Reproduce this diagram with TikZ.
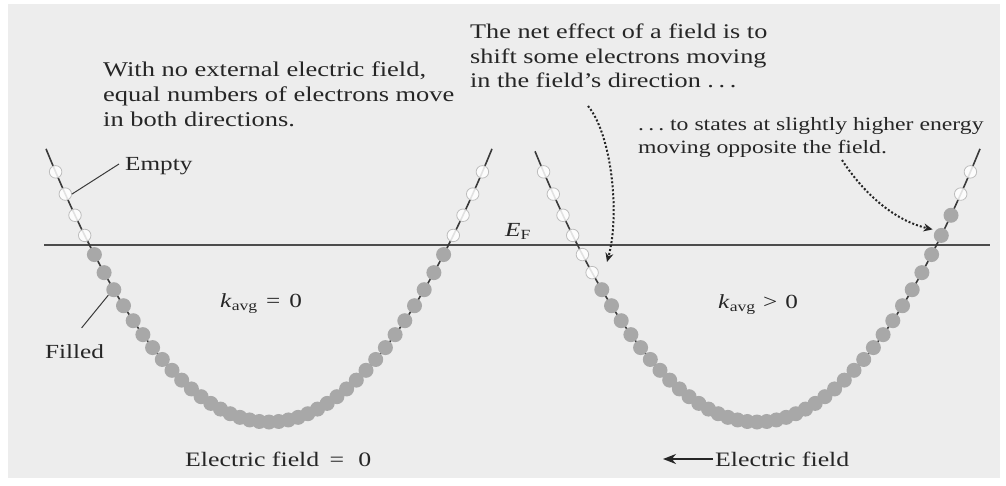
\documentclass[tikz,border=0pt]{standalone}
\usepackage{fontspec}
\setmainfont{Liberation Serif}[FakeStretch=1.26]
\usetikzlibrary{arrows.meta}
\definecolor{bg}{HTML}{EDEDED}
\definecolor{curvec}{HTML}{3A3A3A}
\definecolor{fillc}{HTML}{A8A8A8}
\definecolor{emptyc}{HTML}{BDBDBD}
\definecolor{txt}{HTML}{262626}
\newcommand{\kavg}{\textit{k}\raisebox{-0.4ex}{\fontsize{14}{14}\selectfont avg}}
\newcommand{\myEF}{\textit{E}\raisebox{-0.4ex}{\fontsize{14}{14}\selectfont F}}
\newcommand{\tdots}{.\kern0.22em.\kern0.22em.}
\begin{document}
\begin{tikzpicture}[x=1pt,y=-1pt,
  lbl/.style={font=\fontsize{20}{25}\selectfont, text=txt, inner sep=0pt, align=left},
  botlbl/.style={font=\fontsize{20.5}{25}\selectfont, text=txt, inner sep=0pt},
  band/.style={draw=curvec, line width=1.6pt},
  fermi/.style={draw=black!70, line width=2pt},
  filledstate/.style={circle, fill=fillc, minimum size=15pt, inner sep=0pt},
  emptystate/.style={circle, fill=white, fill opacity=0.85, draw=emptyc, line width=0.8pt, minimum size=12.5pt, inner sep=0pt},
  leader/.style={draw=curvec, line width=1pt},
  shiftarrow/.style={draw=black!85, line width=2pt, dotted, -{Stealth[length=9pt,width=8pt]}},
  fieldarrow/.style={draw=black!85, line width=2pt, -{Stealth[length=13pt,width=10pt]}},
]
\useasboundingbox (0,0) rectangle (1006,485);
\fill[white] (0,0) rectangle (1006,485);
\fill[bg] (8,4) rectangle (1000,478);

% Fermi level
\draw[fermi] (44,245) -- (990,245);

% band curves
\draw[band] plot[domain=-223:223,samples=90] ({269+\x},{422-176*(\x/179)*(\x/179)});
\draw[band] plot[domain=-222:223,samples=90] ({757+\x},{422-176*(\x/179)*(\x/179)});

% states, left (no field)
\foreach \n in {-22,...,22}{
  \pgfmathsetmacro\dx{9.7*\n}
  \pgfmathsetmacro\yy{422-176*(\dx/179)*(\dx/179)}
  \ifnum\n<-18
    \node[emptystate] (L\n) at ({269+\dx},\yy) {};
  \else\ifnum\n>18
    \node[emptystate] (L\n) at ({269+\dx},\yy) {};
  \else
    \node[filledstate] (L\n) at ({269+\dx},\yy) {};
  \fi\fi
}
% states, right (with field)
\foreach \n in {-22,...,22}{
  \pgfmathsetmacro\dx{9.7*\n}
  \pgfmathsetmacro\yy{422-176*(\dx/179)*(\dx/179)}
  \ifnum\n<-16
    \node[emptystate] (R\n) at ({757+\dx},\yy) {};
  \else\ifnum\n>20
    \node[emptystate] (R\n) at ({757+\dx},\yy) {};
  \else
    \node[filledstate] (R\n) at ({757+\dx},\yy) {};
  \fi\fi
}

% texts
\node[lbl, anchor=north west, font=\fontsize{21}{25}\selectfont] (nofield) at (103,61.7)
  {With no external electric field,\\equal numbers of electrons move\\in both directions.};
\node[lbl, anchor=north west, font=\fontsize{20.8}{24.5}\selectfont] (neteffect) at (470,23.8)
  {The net effect of a field is to\\shift some electrons moving\\in the field's direction \tdots};
\node[lbl, anchor=north west, font=\fontsize{18.8}{23.5}\selectfont] (higher) at (638,117)
  {\tdots\ to states at slightly higher energy\\moving opposite the field.};

\node[lbl, anchor=base west] (emptylbl) at (125,170) {Empty};
\node[lbl, anchor=base west] (filledlbl) at (45,358) {Filled};
\node[lbl, anchor=base west] (kzero) at (220,307) {\kavg\hspace{0.45em}=\hspace{0.45em}0};
\node[lbl, anchor=base west] (kpos) at (718,308) {\kavg\hspace{0.4em}>\hspace{0.4em}0};
\node[lbl, anchor=base west] (eflbl) at (505,236) {\myEF};
\node[botlbl, anchor=base west] (fieldzero) at (185,466) {Electric field\hspace{0.5em}=\hspace{0.7em}0};
\node[botlbl, anchor=base west] (fieldlbl) at (715,466) {Electric field};

% leaders
\draw[leader] ([xshift=-6pt,yshift=6pt]emptylbl.base west) -- (L-21.east);
\draw[leader] ([xshift=7pt,yshift=16pt]filledlbl.north) -- (L-16.south west);

% dotted arrows
\coordinate (a1start) at (588,106);
\coordinate (a1tip) at (607,262);
\draw[shiftarrow] (a1start) .. controls (612,135) and (620,215) .. (a1tip);
\coordinate (a2start) at (842,160);
\draw[shiftarrow] (a2start) .. controls (868,200) and (900,222) .. ([xshift=-1pt,yshift=6pt]R19.west);

% field arrow
\coordinate (fieldtip) at (663,459);
\draw[fieldarrow] ([xshift=-2pt,yshift=7pt]fieldlbl.base west) -- (fieldtip);
\end{tikzpicture}
\end{document}
